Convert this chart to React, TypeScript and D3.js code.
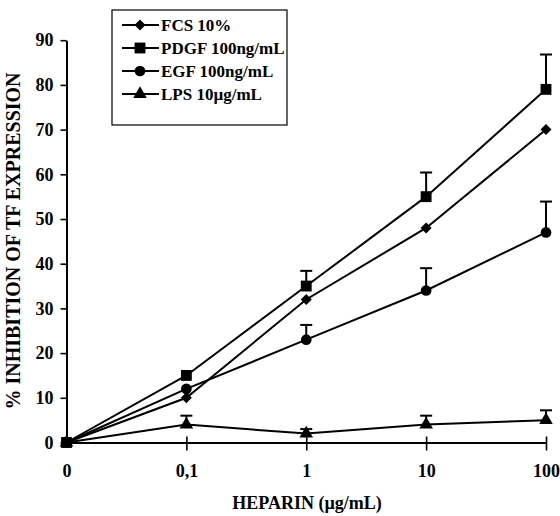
import React, { useEffect, useRef } from 'react';
import * as d3 from 'd3';

const doses = ['0', '0,1', '1', '10', '100'];
const seriesNames = ['FCS 10%', 'PDGF 100ng/mL', 'EGF 100ng/mL', 'LPS 10\u00b5g/mL'];
const markers = ['diamond', 'square', 'circle', 'triangle'];
const fcsValues = [0, 10, 32, 48, 70];
const fcsErrors = [0, 0, 0, 0, 0];
const pdgfValues = [0, 15, 35, 55, 79];
const pdgfErrors = [0, 0, 3.4, 5.4, 7.8];
const egfValues = [0, 12, 23, 34, 47];
const egfErrors = [0, 0, 3.3, 5, 6.9];
const lpsValues = [0, 4, 2, 4, 5];
const lpsErrors = [0, 2, 1, 2, 2.2];
const yTicks = [0, 10, 20, 30, 40, 50, 60, 70, 80, 90];

const W = 560;
const H = 516;
const FONT = '"Liberation Serif", "Times New Roman", serif';

export default function App() {
  const svgRef = useRef<SVGSVGElement>(null);

  useEffect(() => {
    if (!svgRef.current) return;
    const svg = d3.select(svgRef.current);
    svg.selectAll('*').remove();

    const x = d3.scalePoint<string>().domain(doses).range([66.5, 546]);
    const y = d3.scaleLinear().domain([0, 90]).range([442.5, 40.2]);

    const series = [
      { name: seriesNames[0], values: fcsValues, errors: fcsErrors, marker: markers[0] },
      { name: seriesNames[1], values: pdgfValues, errors: pdgfErrors, marker: markers[1] },
      { name: seriesNames[2], values: egfValues, errors: egfErrors, marker: markers[2] },
      { name: seriesNames[3], values: lpsValues, errors: lpsErrors, marker: markers[3] },
    ];

    // diamond is a square turned by 45deg, like the original
    const symbolFor = (m: string) => {
      if (m === 'diamond') return d3.symbol(d3.symbolSquare, 60)();
      if (m === 'square') return d3.symbol(d3.symbolSquare, 118)();
      if (m === 'circle') return d3.symbol(d3.symbolCircle, 90)();
      return d3.symbol(d3.symbolTriangle, 80)();
    };
    const rot = (m: string) => (m === 'diamond' ? ' rotate(45)' : '');

    const g = svg.append('g');

    // y axis
    const yAxis = g.append('g')
      .attr('transform', `translate(${x('0')},0)`)
      .call(d3.axisLeft(y).tickValues(yTicks).tickSize(6).tickSizeOuter(0));
    yAxis.select('.domain').attr('stroke', '#000').attr('stroke-width', 2);
    yAxis.selectAll('.tick line').attr('stroke', '#000').attr('stroke-width', 1.6);
    yAxis.selectAll('.tick text')
      .attr('font-family', FONT).attr('font-size', 18).attr('font-weight', 'bold')
      .attr('fill', '#000').attr('x', -13);

    // x axis
    const xAxis = g.append('g')
      .attr('transform', `translate(0,${y(0)})`)
      .call(d3.axisBottom(x).tickSize(7).tickSizeOuter(0));
    xAxis.select('.domain').attr('stroke', '#000').attr('stroke-width', 2);
    xAxis.selectAll('.tick line')
      .attr('stroke', '#000').attr('stroke-width', 1.6).attr('y1', -6).attr('y2', 8);
    xAxis.selectAll('.tick')
      .filter((d: any) => d === '0')
      .select('line').remove();
    xAxis.selectAll('.tick text')
      .attr('font-family', FONT).attr('font-size', 18).attr('font-weight', 'bold')
      .attr('fill', '#000').attr('y', 22);

    // error bars (upward only)
    series.forEach(s => {
      s.values.forEach((v, i) => {
        if (!s.errors[i]) return;
        const cx = x(doses[i]) as number;
        g.append('line')
          .attr('x1', cx).attr('x2', cx)
          .attr('y1', y(v)).attr('y2', y(v + s.errors[i]))
          .attr('stroke', '#000').attr('stroke-width', 2);
        g.append('line')
          .attr('x1', cx - 6).attr('x2', cx + 6)
          .attr('y1', y(v + s.errors[i])).attr('y2', y(v + s.errors[i]))
          .attr('stroke', '#000').attr('stroke-width', 2);
      });
    });

    // lines and markers
    const line = d3.line<number>()
      .x((_, i) => x(doses[i]) as number)
      .y(d => y(d));

    series.forEach(s => {
      g.append('path')
        .datum(s.values)
        .attr('fill', 'none')
        .attr('stroke', '#000')
        .attr('stroke-width', 2)
        .attr('d', line);
      g.selectAll(null)
        .data(s.values)
        .enter()
        .append('path')
        .attr('d', symbolFor(s.marker))
        .attr('transform', (d, i) => `translate(${x(doses[i])},${y(d)})${rot(s.marker)}`)
        .attr('fill', '#000');
    });

    // legend
    const legend = svg.append('g').attr('transform', 'translate(112,10)');
    legend.append('rect')
      .attr('width', 175).attr('height', 115)
      .attr('fill', '#fff').attr('stroke', '#000').attr('stroke-width', 1.2);
    series.forEach((s, i) => {
      const row = legend.append('g').attr('transform', `translate(0,${15 + i * 23})`);
      row.append('line').attr('x1', 10).attr('x2', 47).attr('stroke', '#000').attr('stroke-width', 2);
      row.append('path')
        .attr('d', symbolFor(s.marker))
        .attr('transform', `translate(28,0)${rot(s.marker)}`)
        .attr('fill', '#000');
      row.append('text')
        .attr('x', 49).attr('dy', '0.35em')
        .attr('font-family', FONT).attr('font-size', 17).attr('font-weight', 'bold')
        .text(s.name);
    });

    // axis titles
    svg.append('text')
      .attr('x', 307).attr('y', 509)
      .attr('text-anchor', 'middle')
      .attr('font-family', FONT).attr('font-size', 18).attr('font-weight', 'bold')
      .text('HEPARIN (\u00b5g/mL)');

    svg.append('text')
      .attr('transform', 'translate(20,241) rotate(-90)')
      .attr('text-anchor', 'middle')
      .attr('font-family', FONT).attr('font-size', 20).attr('font-weight', 'bold')
      .text('% INHIBITION OF TF EXPRESSION');
  }, []);

  return (
    <div style={{ position: 'absolute', left: 0, top: 0 }}>
      <svg ref={svgRef} width={W} height={H} style={{ display: 'block', background: '#fff' }} />
    </div>
  );
}
